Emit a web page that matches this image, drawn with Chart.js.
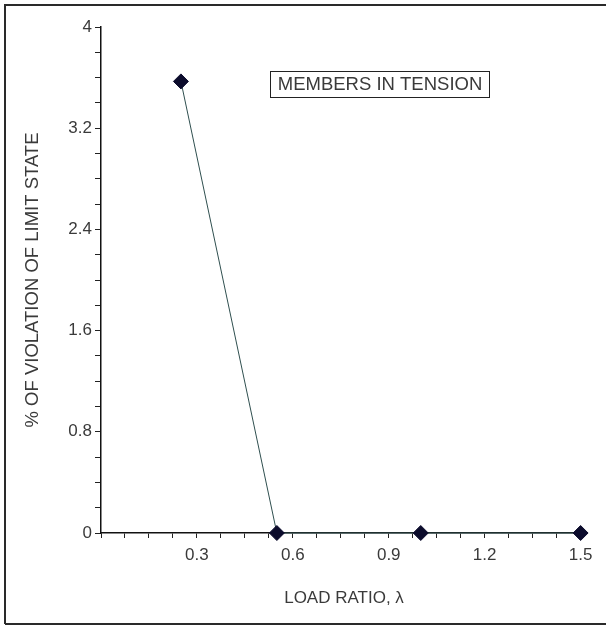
<!DOCTYPE html>
<html>
<head>
<meta charset="utf-8">
<script src="https://cdn.jsdelivr.net/npm/chart.js@4"></script>
<style>
  html, body { margin: 0; padding: 0; background: #fff; }
  #wrap { position: absolute; left: 0; top: 0; width: 606px; height: 626px; }
</style>
</head>
<body>
<div id="wrap"><canvas id="c" width="606" height="626"></canvas></div>
<script>
const loadRatio = [0.25, 0.55, 1.0, 1.5];
const violationPct = [3.57, 0, 0, 0];
const xLabelValues = [0.3, 0.6, 0.9, 1.2, 1.5];
const yLabelValues = [0, 0.8, 1.6, 2.4, 3.2, 4];
const annotationText = 'MEMBERS IN TENSION';
const xTitle = 'LOAD RATIO, \u03BB';
const yTitle = '% OF VIOLATION OF LIMIT STATE';

const FONT = "'Liberation Sans', Arial, sans-serif";
const TXT = '#3a3a3a';

function isLabel(v, list) {
  return list.some(l => Math.abs(l - v) < 1e-6);
}

const framePlugin = {
  id: 'frame',
  afterDraw(chart) {
    const ctx = chart.ctx;
    ctx.save();
    // outer frame
    ctx.strokeStyle = '#2a2a2a';
    ctx.lineWidth = 2;
    ctx.beginPath();
    ctx.moveTo(5, 624);
    ctx.lineTo(5, 5);
    ctx.lineTo(606, 5);
    ctx.moveTo(5, 624);
    ctx.lineTo(606, 624);
    ctx.stroke();
    // annotation box
    ctx.lineWidth = 1;
    ctx.strokeStyle = '#222';
    ctx.strokeRect(270.5, 71.5, 219, 26);
    ctx.fillStyle = TXT;
    ctx.font = "18.5px " + FONT;
    ctx.textAlign = 'center';
    ctx.textBaseline = 'middle';
    ctx.fillText(annotationText, 380, 85);
    ctx.restore();
  }
};

new Chart(document.getElementById('c'), {
  type: 'scatter',
  data: {
    datasets: [{
      data: loadRatio.map((x, i) => ({ x: x, y: violationPct[i] })),
      showLine: true,
      borderColor: '#2f4f4f',
      borderWidth: 1,
      pointStyle: 'rectRot',
      pointRadius: 7.5,
      pointHoverRadius: 7.5,
      pointBackgroundColor: '#0c0c2c',
      pointBorderColor: '#0c0c2c',
      pointBorderWidth: 1,
      tension: 0,
      clip: false
    }]
  },
  options: {
    responsive: false,
    animation: false,
    events: [],
    layout: { padding: { left: 0, right: 19, top: 27, bottom: 0 } },
    plugins: { legend: { display: false }, tooltip: { enabled: false } },
    scales: {
      x: {
        type: 'linear',
        min: 0,
        max: 1.52,
        afterBuildTicks(scale) {
          scale.ticks = scale.ticks.filter(t => Math.abs(t.value / 0.075 - Math.round(t.value / 0.075)) < 1e-6);
        },
        afterFit(scale) { scale.height = 93; },
        ticks: {
          stepSize: 0.075,
          includeBounds: false,
          autoSkip: false,
          maxRotation: 0,
          padding: 7,
          color: TXT,
          font: { family: FONT, size: 17 },
          callback: (v) => (v > 0 && isLabel(v, xLabelValues)) ? String(Math.round(v * 10) / 10) : ''
        },
        grid: {
          drawOnChartArea: false,
          drawTicks: true,
          tickLength: 5,
          tickColor: '#222',
          tickWidth: 1
        },
        border: { display: true, color: '#111', width: 1.5 },
        title: {
          display: true,
          text: xTitle,
          color: TXT,
          font: { family: FONT, size: 17 },
          padding: { top: 0, bottom: 17 }
        }
      },
      y: {
        type: 'linear',
        min: 0,
        max: 4,
        afterFit(scale) { scale.width = 101; },
        ticks: {
          stepSize: 0.2,
          autoSkip: false,
          padding: 3,
          color: TXT,
          font: { family: FONT, size: 17 },
          callback: (v) => isLabel(v, yLabelValues) ? String(Math.round(v * 10) / 10) : ''
        },
        grid: {
          drawOnChartArea: false,
          drawTicks: true,
          tickLength: 6,
          tickColor: '#222',
          tickWidth: 1
        },
        border: { display: true, color: '#111', width: 1.5 },
        title: {
          display: true,
          text: yTitle,
          color: TXT,
          font: { family: FONT, size: 18.5 },
          padding: { top: 22, bottom: 0 }
        }
      }
    }
  },
  plugins: [framePlugin]
});
</script>
</body>
</html>
